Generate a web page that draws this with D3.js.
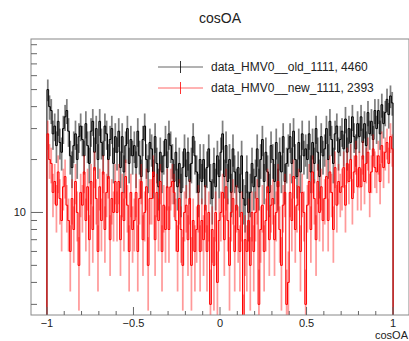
<!DOCTYPE html>
<html>
<head>
<meta charset="utf-8">
<script src="https://cdn.jsdelivr.net/npm/d3@7"></script>
<style>
  body { margin: 0; background: #fff; }
  text { font-family: "Liberation Sans", Arial, Helvetica, sans-serif; }
</style>
</head>
<body>
<div id="chart"></div>
<script>
let w = 409;
let h = 341;

// histogram cosOA, 200 bins of 0.01 between -1 and 1
let binStart = -1;
let binWidth = 0.01;

let oldCounts = [
  50, 40, 38, 28, 31, 24, 33, 25, 22, 30,
  35, 38, 29, 21, 18, 24, 28, 20, 27, 31,
  26, 21, 32, 24, 19, 29, 33, 22, 30, 20,
  33, 25, 21, 31, 28, 20, 26, 30, 19, 27,
  22, 29, 18, 27, 17, 24, 30, 19, 26, 21,
  24, 18, 29, 21, 16, 26, 31, 20, 17, 25,
  23, 16, 27, 19, 14, 22, 17, 21, 26, 18,
  28, 24, 20, 15, 22, 14, 19, 13, 18, 23,
  16, 22, 15, 19, 27, 21, 17, 13, 20, 15,
  20, 14, 18, 23, 15, 12, 19, 14, 21, 16,
  22, 28, 16, 24, 15, 20, 13, 23, 17, 14,
  18, 13, 21, 12, 11, 17, 10, 13, 19, 14,
  16, 23, 14, 20, 26, 15, 22, 17, 13, 24,
  20, 15, 25, 14, 22, 17, 27, 15, 19, 23,
  27, 19, 29, 20, 16, 25, 17, 28, 21, 23,
  20, 28, 17, 25, 19, 30, 22, 16, 27, 21,
  23, 30, 20, 33, 26, 19, 28, 31, 22, 26,
  29, 23, 34, 22, 30, 25, 35, 27, 23, 32,
  27, 35, 25, 32, 24, 37, 28, 33, 26, 38,
  30, 38, 28, 41, 32, 37, 44, 36, 46, 42
];

let newCounts = [
  28, 20, 19, 13, 15, 11, 17, 12, 9, 14,
  16, 11, 9, 6, 12, 8, 15, 10, 5, 13,
  11, 17, 9, 14, 7, 15, 8, 18, 12, 6,
  14, 9, 17, 8, 13, 16, 7, 12, 10, 15,
  10, 15, 7, 13, 9, 16, 11, 6, 13, 8,
  9, 13, 6, 12, 15, 7, 10, 14, 5, 12,
  12, 17, 7, 13, 9, 15, 6, 11, 8, 14,
  8, 14, 15, 13, 9, 6, 12, 8, 5, 10,
  11, 7, 12, 5, 9, 6, 8, 11, 6, 9,
  7, 11, 6, 10, 3, 8, 5, 10, 4, 9,
  10, 13, 7, 14, 9, 5, 10, 12, 6, 11,
  8, 6, 10, 2, 7, 6, 9, 5, 10, 6,
  10, 12, 3, 8, 11, 6, 9, 14, 7, 11,
  12, 7, 10, 15, 8, 5, 11, 13, 3, 4,
  13, 9, 16, 8, 11, 14, 6, 13, 10, 3,
  11, 15, 8, 17, 12, 7, 15, 10, 14, 9,
  12, 16, 9, 17, 13, 8, 18, 11, 15, 13,
  14, 18, 11, 19, 15, 20, 12, 17, 21, 14,
  18, 14, 21, 15, 19, 22, 13, 17, 23, 18,
  17, 21, 15, 24, 18, 22, 25, 19, 27, 23
];

let seriesNames = ["data_HMV0__old_1111, 4460", "data_HMV0__new_1111, 2393"];
let seriesColors = ["#000000", "#ff0000"];

let xTicks = [-1, -0.5, 0, 0.5, 1];
let yTickLabels = [10];

let frame = {left: 31, right: 409, top: 39, bottom: 315};

let viz = d3.select("#chart")
  .append("svg")
  .attr("width", w)
  .attr("height", h)
;

let xScale = d3.scaleLinear().domain([-1.092, 1.092]).range([frame.left, frame.right]);
let yScale = d3.scaleLog().domain([2.61, 97]).range([frame.bottom, frame.top]);

viz.append("clipPath").attr("id", "clip")
  .append("rect")
  .attr("x", frame.left).attr("y", frame.top)
  .attr("width", frame.right - frame.left).attr("height", frame.bottom - frame.top);

// y position that survives zero / negative values
function yPos(v){
  if (v <= 0) return frame.bottom + 2;
  return Math.min(yScale(v), frame.bottom + 2);
}

let plot = viz.append("g").attr("clip-path", "url(#clip)");

function drawHist(counts, color, errOpacity){
  let bins = counts.map(function(c, i){
    return {lo: binStart + i*binWidth, hi: binStart + (i+1)*binWidth, n: c};
  });

  // error bars
  plot.append("g").selectAll("rect").data(bins).enter()
    .append("rect")
    .attr("x", d => xScale(d.lo))
    .attr("width", d => xScale(d.hi) - xScale(d.lo))
    .attr("y", d => yPos(d.n + Math.sqrt(d.n)))
    .attr("height", d => yPos(d.n - Math.sqrt(d.n)) - yPos(d.n + Math.sqrt(d.n)))
    .attr("fill", color)
    .attr("opacity", errOpacity)
  ;

  // step line, with empty bins out to +-1.1
  let pts = [[xScale(-1.1), yPos(0)], [xScale(-1), yPos(0)]];
  bins.forEach(function(d){
    pts.push([xScale(d.lo), yPos(d.n)]);
    pts.push([xScale(d.hi), yPos(d.n)]);
  });
  pts.push([xScale(1), yPos(0)]);
  pts.push([xScale(1.1), yPos(0)]);

  plot.append("path")
    .attr("d", d3.line()(pts))
    .attr("fill", "none")
    .attr("stroke", color)
    .attr("stroke-width", 1)
  ;
}

drawHist(oldCounts, seriesColors[0], 0.5);
drawHist(newCounts, seriesColors[1], 0.4);

// frame
viz.append("rect")
  .attr("x", frame.left).attr("y", frame.top)
  .attr("width", frame.right - frame.left).attr("height", frame.bottom - frame.top)
  .attr("fill", "none")
  .attr("stroke", "#888")
  .attr("stroke-width", 1)
;

// x axis ticks
let xMinor = d3.range(-10, 11).map(i => i/10);
viz.append("g").selectAll("line").data(xMinor).enter()
  .append("line")
  .attr("x1", d => xScale(d)).attr("x2", d => xScale(d))
  .attr("y1", frame.bottom)
  .attr("y2", d => frame.bottom - (Math.abs(d*2 - Math.round(d*2)) < 1e-6 ? 8 : 4))
  .attr("stroke", "#666");

viz.append("g").selectAll("text").data(xTicks).enter()
  .append("text")
  .attr("x", d => xScale(d))
  .attr("y", 327)
  .attr("text-anchor", "middle")
  .attr("font-size", 11)
  .attr("fill", "#222")
  .text(d => d3.format("")(d).replace("-", "\u2212"));

viz.append("text")
  .attr("x", 408).attr("y", 339)
  .attr("text-anchor", "end")
  .attr("font-size", 11)
  .attr("fill", "#222")
  .text("cosOA");

// y axis ticks (log)
let yMinor = [3,4,5,6,7,8,9,10,20,30,40,50,60,70,80,90];
viz.append("g").selectAll("line").data(yMinor).enter()
  .append("line")
  .attr("x1", frame.left)
  .attr("x2", d => frame.left + (yTickLabels.includes(d) ? 12 : 6))
  .attr("y1", d => yScale(d)).attr("y2", d => yScale(d))
  .attr("stroke", "#666");

viz.append("g").selectAll("text").data(yTickLabels).enter()
  .append("text")
  .attr("x", 26)
  .attr("y", d => yScale(d) + 4)
  .attr("text-anchor", "end")
  .attr("font-size", 11)
  .attr("fill", "#222")
  .text(d => d);

// title
viz.append("text")
  .attr("x", (frame.left + frame.right)/2)
  .attr("y", 23)
  .attr("text-anchor", "middle")
  .attr("font-size", 14)
  .attr("fill", "#222")
  .text("cosOA");

// legend
let legend = viz.append("g").selectAll("g").data(seriesNames).enter()
  .append("g")
  .attr("transform", (d, i) => "translate(0," + (67 + i*21) + ")");

legend.append("line")
  .attr("x1", 158).attr("x2", 203).attr("y1", 0).attr("y2", 0)
  .attr("stroke", (d, i) => seriesColors[i])
  .attr("stroke-opacity", 0.6);
legend.append("line")
  .attr("x1", 180.5).attr("x2", 180.5).attr("y1", -6).attr("y2", 6)
  .attr("stroke", (d, i) => seriesColors[i])
  .attr("stroke-opacity", 0.8);
legend.append("text")
  .attr("x", 211).attr("y", 4)
  .attr("font-size", 12)
  .attr("fill", "#222")
  .text(d => d);
</script>
</body>
</html>
